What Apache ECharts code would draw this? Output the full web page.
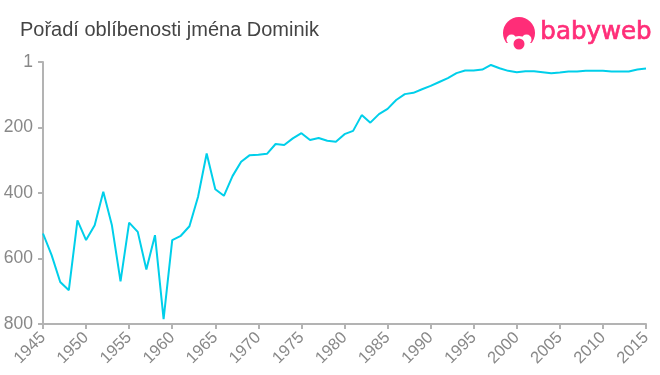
<!DOCTYPE html>
<html>
<head>
<meta charset="utf-8">
<style>
html, body { margin: 0; padding: 0; background: #fff; }
#chart { width: 660px; height: 375px; }
</style>
</head>
<body>
<div id="chart"></div>
<script src="https://cdn.jsdelivr.net/npm/echarts@6/dist/echarts.min.js"></script>
<script>
const years = [1945, 1946, 1947, 1948, 1949, 1950, 1951, 1952, 1953, 1954, 1955, 1956, 1957, 1958, 1959, 1960, 1961, 1962, 1963, 1964, 1965, 1966, 1967, 1968, 1969, 1970, 1971, 1972, 1973, 1974, 1975, 1976, 1977, 1978, 1979, 1980, 1981, 1982, 1983, 1984, 1985, 1986, 1987, 1988, 1989, 1990, 1991, 1992, 1993, 1994, 1995, 1996, 1997, 1998, 1999, 2000, 2001, 2002, 2003, 2004, 2005, 2006, 2007, 2008, 2009, 2010, 2011, 2012, 2013, 2014, 2015];
const ranks = [524, 590, 672, 697, 484, 544, 499, 397, 499, 670, 491, 519, 634, 529, 785, 544, 531, 502, 412, 280, 389, 409, 349, 305, 285, 284, 281, 251, 254, 234, 218, 239, 233, 241, 244, 221, 211, 163, 186, 160, 144, 117, 99, 95, 84, 74, 62, 50, 35, 27, 27, 24, 10, 20, 28, 32, 29, 29, 32, 35, 33, 30, 30, 28, 28, 28, 30, 30, 30, 24, 21];
const rankTicks = [1, 200, 400, 600, 800];
const titleText = 'Pořadí oblíbenosti jména Dominik';
const logoText = 'babyweb';

const chart = echarts.init(document.getElementById('chart'));
chart.setOption({
	animation: false,
	backgroundColor: '#fff',
	title: {
		text: titleText,
		left: 15,
		top: 15,
		textStyle: {
			fontFamily: 'Liberation Sans',
			fontSize: 20,
			fontWeight: 'normal',
			color: '#444'
		}
	},
	grid: { left: 43, right: 14, top: 62, bottom: 51 },
	xAxis: {
		type: 'value',
		min: 1945,
		max: 2015,
		interval: 5,
		splitLine: { show: false },
		axisLine: { lineStyle: { color: '#b3b3b3', width: 2 } },
		axisTick: { length: 5, lineStyle: { color: '#b3b3b3', width: 2 } },
		axisLabel: {
			rotate: 45,
			margin: 11,
			fontFamily: 'Liberation Sans',
			fontSize: 16.5,
			color: '#888',
			showMinLabel: true,
			showMaxLabel: true,
			hideOverlap: false,
			formatter: function (v) { return String(v); }
		}
	},
	yAxis: {
		type: 'value',
		inverse: true,
		min: 1,
		max: 800,
		splitLine: { show: false },
		axisLine: { show: true, onZero: false, lineStyle: { color: '#b3b3b3', width: 2 } },
		axisTick: { show: true, customValues: rankTicks, length: 5, lineStyle: { color: '#b3b3b3', width: 2 } },
		axisLabel: {
			customValues: rankTicks,
			margin: 10,
			fontFamily: 'Liberation Sans',
			fontSize: 17.5,
			color: '#888'
		}
	},
	series: [{
		type: 'line',
		data: years.map((y, i) => [y, ranks[i]]),
		symbol: 'none',
		lineStyle: { color: '#00cfea', width: 2 }
	}],
	graphic: [
		// logo
		{ type: 'circle', shape: { cx: 519, cy: 33, r: 16 }, style: { fill: '#ff2d78' } },
		{ type: 'rect', shape: { x: 502, y: 43, width: 34, height: 8 }, style: { fill: '#fff' } },
		{ type: 'circle', shape: { cx: 511.5, cy: 39.5, r: 5 }, style: { fill: '#fff' } },
		{ type: 'circle', shape: { cx: 526.5, cy: 39.5, r: 5 }, style: { fill: '#fff' } },
		{ type: 'circle', shape: { cx: 519, cy: 44, r: 8 }, style: { fill: '#fff' } },
		{ type: 'circle', shape: { cx: 519, cy: 44, r: 5.5 }, style: { fill: '#ff2d78' } },
		{
			type: 'text',
			left: 540,
			top: 20,
			style: {
				text: logoText,
				fontFamily: 'DejaVu Sans',
				fontSize: 24.5,
				fill: '#ff2d78',
				stroke: '#ff2d78',
				lineWidth: 0.7
			}
		}
	]
});
</script>
</body>
</html>
